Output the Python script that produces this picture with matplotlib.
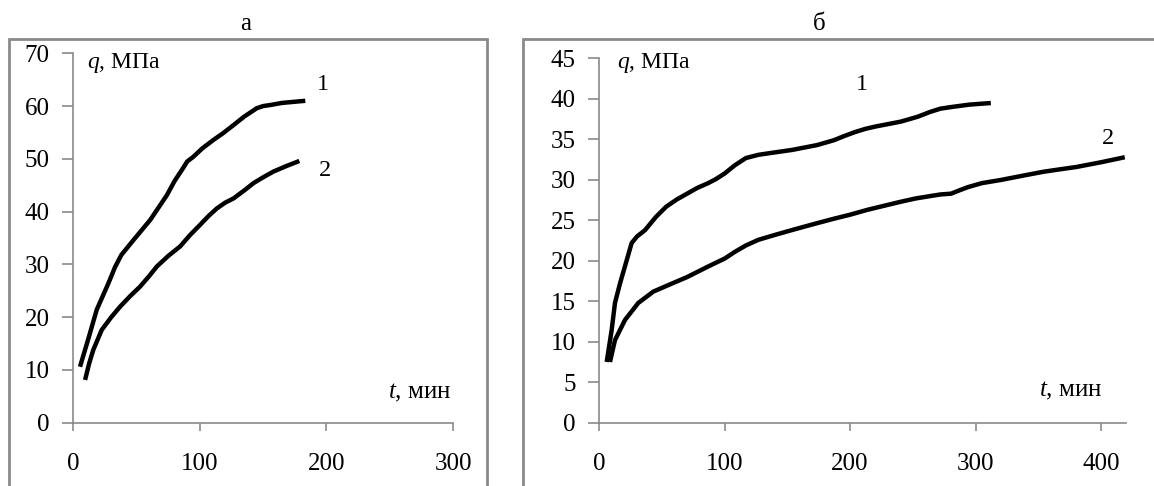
import matplotlib
matplotlib.use("Agg")
import matplotlib.pyplot as plt
from matplotlib.patches import Rectangle

plt.rcParams['font.family'] = ['Liberation Serif', 'DejaVu Serif']
plt.rcParams['mathtext.fontset'] = 'custom'
plt.rcParams['mathtext.it'] = 'Liberation Serif:italic'
plt.rcParams['mathtext.rm'] = 'Liberation Serif'

# Panel а
a_t1 = [5.3, 12, 18.5, 27.7, 33, 38, 47.5, 60.7, 68, 73.9, 80, 85.8, 90, 94.9, 102, 110.8,
        118, 126.6, 135, 145, 150, 155.6, 165, 183.3]
a_q1 = [10.6, 16.0, 21.4, 26.4, 29.5, 31.8, 34.6, 38.4, 41.0, 43.1, 45.8, 47.9, 49.5, 50.4,
        52.0, 53.6, 54.8, 56.4, 58.0, 59.6, 60.0, 60.2, 60.6, 61.0]
a_t2 = [9.3, 12.5, 15.8, 22.5, 30, 37, 45, 52.8, 60, 66, 75, 84.4, 92, 100.2, 107, 113.4,
        120, 126.6, 135, 142.4, 150, 158.2, 168, 178.6]
a_q2 = [8.1, 11.2, 13.8, 17.6, 20.0, 22.0, 24.0, 25.8, 27.8, 29.6, 31.6, 33.4, 35.5, 37.5,
        39.2, 40.6, 41.7, 42.5, 44.0, 45.4, 46.5, 47.6, 48.6, 49.6]

# Panel б
b_t1 = [5.9, 9.9, 12.5, 16.5, 21.9, 25.8, 30, 36.5, 45, 53.4, 62, 70, 78, 86.8, 93, 100,
        108, 116.9, 126.9, 140, 153.6, 173.6, 187, 195, 203.7, 212, 220.4, 240.4, 253.8,
        263.8, 272, 280.5, 295, 312.2]
b_q1 = [7.5, 11.5, 14.8, 17.2, 20.1, 22.2, 23.0, 23.8, 25.4, 26.7, 27.6, 28.3, 29.0, 29.6,
        30.1, 30.8, 31.8, 32.7, 33.1, 33.4, 33.7, 34.3, 34.9, 35.4, 35.9, 36.3, 36.6, 37.2,
        37.8, 38.4, 38.8, 39.0, 39.3, 39.5]
b_t2 = [8.5, 12.5, 20.5, 31.1, 43.1, 55, 70.1, 86.8, 100.2, 108, 116.9, 126.9, 140, 153.6,
        170, 187, 200, 213.7, 227, 240.4, 252, 263.8, 272, 280.5, 287, 293.8, 305, 320.5,
        337, 353.9, 367, 380.6, 400.7, 419]
b_q2 = [7.5, 10.2, 12.7, 14.8, 16.2, 17.0, 18.0, 19.3, 20.3, 21.1, 21.9, 22.6, 23.2, 23.8,
        24.5, 25.2, 25.7, 26.3, 26.8, 27.3, 27.7, 28.0, 28.2, 28.3, 28.7, 29.1, 29.6, 30.0,
        30.5, 31.0, 31.3, 31.6, 32.2, 32.8]

a_xticks = [0, 100, 200, 300]
a_yticks = [0, 10, 20, 30, 40, 50, 60, 70]
b_xticks = [0, 100, 200, 300, 400]
b_yticks = [0, 5, 10, 15, 20, 25, 30, 35, 40, 45]

W, H = 1154, 486
fig = plt.figure(figsize=(W / 100, H / 100), dpi=100)

def fx(px):
    return px / W

def fy(py):
    return 1 - py / H

gray = '#8a8a8a'
# Outer frames
fig.patches.append(Rectangle((fx(9), -0.1), fx(486.7) - fx(9), fy(39) + 0.1,
                             transform=fig.transFigure, fill=False, ec=gray, lw=2))
fig.patches.append(Rectangle((fx(522.5), -0.1), 0.6, fy(39) + 0.1,
                             transform=fig.transFigure, fill=False, ec=gray, lw=2))

ax1 = fig.add_axes([fx(73.3), fy(422.7), fx(453) - fx(73.3), fy(53.3) - fy(422.7)])
ax2 = fig.add_axes([fx(599.3), fy(422.7), fx(1126) - fx(599.3), fy(58.5) - fy(422.7)])

def style(ax, xt, yt, xmax, ymax):
    ax.set_xlim(0, xmax)
    ax.set_ylim(0, ymax)
    ax.set_xticks(xt)
    ax.set_yticks(yt)
    for s in ['top', 'right']:
        ax.spines[s].set_visible(False)
    for s in ['left', 'bottom']:
        ax.spines[s].set_color(gray)
        ax.spines[s].set_linewidth(1.2)
    ax.tick_params(axis='y', direction='out', length=8, width=1.2, color=gray,
                   pad=9, labelsize=18)
    ax.tick_params(axis='x', direction='out', length=6, width=1.2, color=gray,
                   pad=16, labelsize=18)
    ax.patch.set_visible(False)

style(ax1, a_xticks, a_yticks, 300, 70)
style(ax2, b_xticks, b_yticks, 420, 45)

lw = 3.2
kw = dict(color='black', lw=lw, solid_capstyle='butt', solid_joinstyle='round', clip_on=False)
ax1.plot(a_t1, a_q1, **kw)
ax1.plot(a_t2, a_q2, **kw)
ax2.plot(b_t1, b_q1, **kw)
ax2.plot(b_t2, b_q2, **kw)

# Axis labels
fig.text(fx(87), fy(63), r'$q$, МПа', fontsize=17, ha='left', va='center')
fig.text(fx(617), fy(63), r'$q$, МПа', fontsize=17, ha='left', va='center')
fig.text(fx(451), fy(393), r'$t$, мин', fontsize=18, ha='right', va='center')
fig.text(fx(1102), fy(391), r'$t$, мин', fontsize=18, ha='right', va='center')

# Curve numbers
fig.text(fx(323), fy(84), '1', fontsize=17.5, ha='center', va='center')
fig.text(fx(325), fy(170), '2', fontsize=17.5, ha='center', va='center')
fig.text(fx(862), fy(84), '1', fontsize=17.5, ha='center', va='center')
fig.text(fx(1108), fy(139), '2', fontsize=17.5, ha='center', va='center')

# Panel titles
fig.text(fx(246), fy(24), 'а', fontsize=18, ha='center', va='center')
fig.text(fx(819), fy(24), 'б', fontsize=18, ha='center', va='center')

fig.savefig('out.png', dpi=100)
